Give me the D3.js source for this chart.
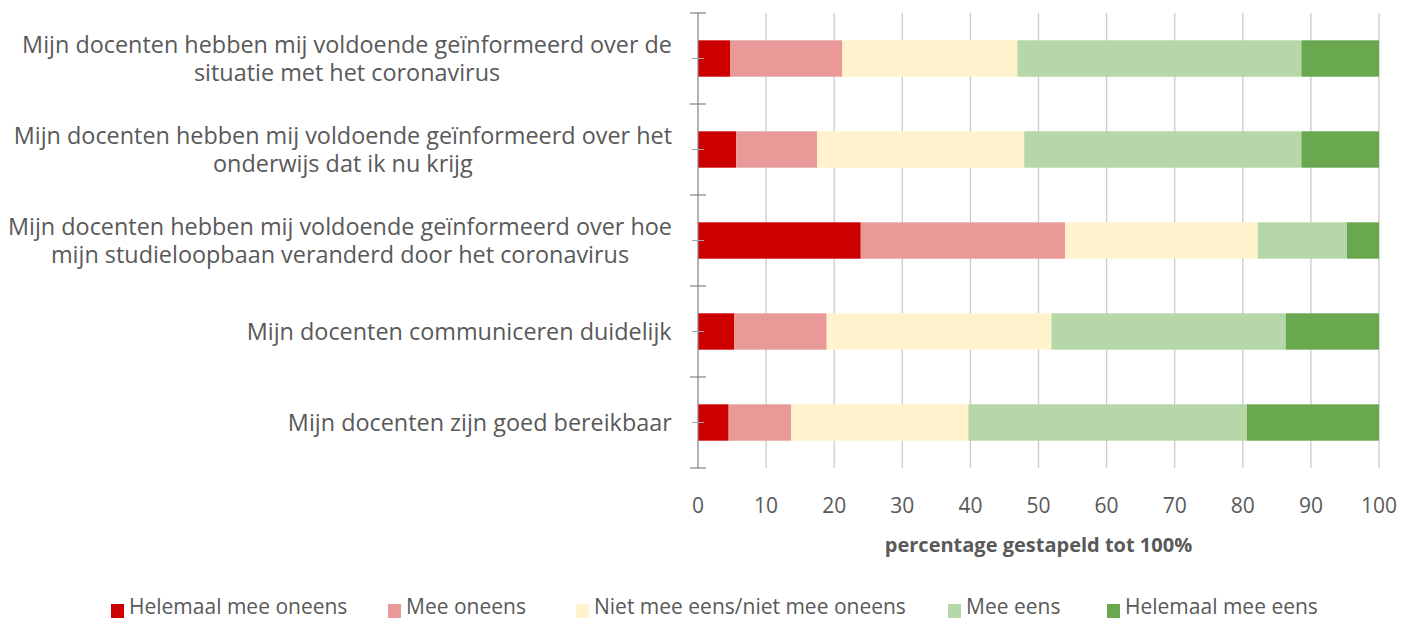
<!DOCTYPE html>
<html>
<head>
<meta charset="utf-8">
<script src="https://cdn.jsdelivr.net/npm/d3@7"></script>
<style>
  body { margin: 0; background: #fff; }
  svg { display: block; font-family: "Open Sans", Lato, sans-serif; }
</style>
</head>
<body>
<svg id="chart" width="1416" height="621"></svg>
<script>
// questions, top to bottom (each entry = lines of the label)
const categories = [
    ['Mijn docenten hebben mij voldoende geïnformeerd over de', 'situatie met het coronavirus'],
    ['Mijn docenten hebben mij voldoende geïnformeerd over het', 'onderwijs dat ik nu krijg'],
    ['Mijn docenten hebben mij voldoende geïnformeerd over hoe', 'mijn studieloopbaan veranderd door het coronavirus'],
    ['Mijn docenten communiceren duidelijk'],
    ['Mijn docenten zijn goed bereikbaar']
];

const seriesNames = ['Helemaal mee oneens', 'Mee oneens', 'Niet mee eens/niet mee oneens', 'Mee eens', 'Helemaal mee eens'];
const seriesColors = ['#cc0000', '#ea9999', '#fff2cc', '#b6d7a8', '#6aa84f'];

// percentages per series, same order as categories
const helemaalOneens = [4.7, 5.6, 23.9, 5.3, 4.5];
const meeOneens      = [16.5, 11.9, 30.0, 13.6, 9.2];
const neutraal       = [25.7, 30.4, 28.3, 33.0, 26.0];
const meeEens        = [41.7, 40.7, 13.1, 34.4, 40.9];
const helemaalEens   = [11.4, 11.4, 4.7, 13.7, 19.4];

const xTicks = [0, 10, 20, 30, 40, 50, 60, 70, 80, 90, 100];
const xTitle = 'percentage gestapeld tot 100%';

const svg = d3.select('#chart');
const margin = { top: 13, left: 698, right: 37, bottom: 153 };
const width = 1416, height = 621;

const x = d3.scaleLinear()
    .domain([0, 100])
    .range([margin.left, width - margin.right]);

const y = d3.scaleBand()
    .domain(d3.range(categories.length))
    .range([margin.top, height - margin.bottom])
    .paddingInner(0.6)
    .paddingOuter(0.3);

// build table for stack
const table = categories.map((c, i) => ({
    s0: helemaalOneens[i], s1: meeOneens[i], s2: neutraal[i], s3: meeEens[i], s4: helemaalEens[i]
}));
const keys = ['s0', 's1', 's2', 's3', 's4'];
const stacked = d3.stack().keys(keys)(table);

// gridlines
svg.append('g')
    .selectAll('line')
    .data(xTicks.slice(1))
    .join('line')
    .attr('x1', d => x(d)).attr('x2', d => x(d))
    .attr('y1', margin.top).attr('y2', height - margin.bottom)
    .attr('stroke', '#cbcbcb')
    .attr('stroke-width', 1.3);

// bars
svg.append('g')
    .selectAll('g')
    .data(stacked)
    .join('g')
    .attr('fill', (d, i) => seriesColors[i])
    .selectAll('rect')
    .data(d => d)
    .join('rect')
    .attr('x', d => x(d[0]))
    .attr('y', (d, i) => y(i))
    .attr('width', d => x(d[1]) - x(d[0]))
    .attr('height', y.bandwidth());

// y axis line + ticks
const axisG = svg.append('g').attr('stroke', '#8c8c8c');
axisG.append('line')
    .attr('x1', x(0)).attr('x2', x(0))
    .attr('y1', margin.top).attr('y2', height - margin.bottom)
    .attr('stroke-width', 1.3);

const boundaries = d3.range(categories.length + 1).map(i => margin.top + i * (height - margin.top - margin.bottom) / categories.length);
axisG.selectAll('.major')
    .data(boundaries)
    .join('line')
    .attr('class', 'major')
    .attr('x1', x(0) - 8).attr('x2', x(0) + 8)
    .attr('y1', d => d).attr('y2', d => d)
    .attr('stroke-width', 1.3);
axisG.selectAll('.minor')
    .data(d3.range(categories.length))
    .join('line')
    .attr('class', 'minor')
    .attr('x1', x(0) - 6).attr('x2', x(0) + 6)
    .attr('y1', i => y(i) + y.bandwidth() / 2)
    .attr('y2', i => y(i) + y.bandwidth() / 2)
    .attr('stroke', '#a6a6a6')
    .attr('stroke-width', 1);

// category labels: block right-aligned, lines centred within the block
const labelRight = 672;
const labels = svg.append('g')
    .attr('fill', '#595959')
    .attr('font-size', 23.4);

categories.forEach((lines, i) => {
    const cy = y(i) + y.bandwidth() / 2;
    const t = labels.append('text').attr('text-anchor', 'middle');
    const lineH = 28;
    const ts = t.selectAll('tspan')
        .data(lines)
        .join('tspan')
        .text(d => d)
        .attr('x', 0)
        .attr('dy', '0.35em')
        .attr('y', (d, j) => cy + (j - (lines.length - 1) / 2) * lineH);
    const w = t.node().getBBox().width;
    ts.attr('x', labelRight - w / 2);
});

// x tick labels
svg.append('g')
    .attr('fill', '#595959')
    .attr('font-size', 21)
    .attr('text-anchor', 'middle')
    .selectAll('text')
    .data(xTicks)
    .join('text')
    .attr('x', d => x(d))
    .attr('y', 513)
    .text(d => d);

svg.append('text')
    .attr('x', (x(0) + x(100)) / 2)
    .attr('y', 552)
    .attr('text-anchor', 'middle')
    .attr('font-size', 20)
    .attr('font-weight', 'bold')
    .attr('fill', '#595959')
    .text(xTitle);

// legend
const legendX = [111, 388, 576, 948, 1107];
const legend = svg.append('g')
    .selectAll('g')
    .data(seriesNames)
    .join('g')
    .attr('transform', (d, i) => `translate(${legendX[i]},611)`);
legend.append('rect')
    .attr('x', 0).attr('y', -7)
    .attr('width', 13).attr('height', 14)
    .attr('fill', (d, i) => seriesColors[i]);
legend.append('text')
    .attr('x', 18)
    .attr('y', 3)
    .attr('font-size', 21)
    .attr('fill', '#595959')
    .text(d => d);
</script>
</body>
</html>
